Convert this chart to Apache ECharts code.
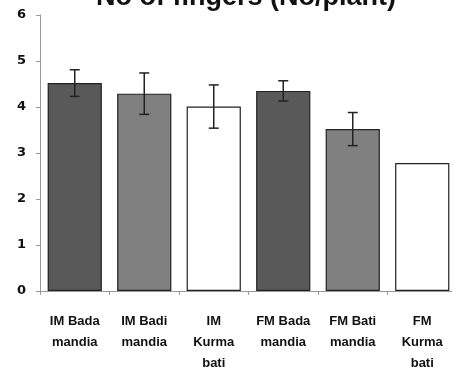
<!DOCTYPE html>
<html><head><meta charset="utf-8">
<script src="https://cdn.jsdelivr.net/npm/echarts@6/dist/echarts.min.js"></script>
<style>html,body{margin:0;padding:0;background:#fff}#c{width:452px;height:367px}</style>
</head><body><div id="c"></div>
<script>
var categories = ['IM Bada\nmandia', 'IM Badi\nmandia', 'IM\nKurma\nbati', 'FM Bada\nmandia', 'FM Bati\nmandia', 'FM\nKurma\nbati'];
var values = [4.52, 4.29, 4.01, 4.35, 3.52, 2.78];
var errors = [0.29, 0.45, 0.47, 0.22, 0.36, 0];
var barColors = ['#595959', '#808080', '#ffffff', '#595959', '#808080', '#ffffff'];
var yTicks = [0, 1, 2, 3, 4, 5, 6];

var chart = echarts.init(document.getElementById('c'));
var errData = values.map(function (v, i) { return [i, v - errors[i], v + errors[i]]; });
chart.setOption({
  animation: false,
  title: {
    text: 'No of fingers (No/plant)', left: 241, textAlign: 'center', top: -21,
    textStyle: { fontFamily: 'Liberation Sans', fontWeight: 'bold', fontSize: 27, color: '#111' }
  },
  grid: { left: 40, top: 15, width: 417, height: 276, outerBoundsMode: 'none', containLabel: false },
  xAxis: {
    type: 'category', data: categories,
    axisLine: { lineStyle: { color: '#999' } },
    axisTick: { show: true, length: 4, lineStyle: { color: '#999' } },
    axisLabel: { interval: 0, margin: 20, fontFamily: 'Liberation Sans', fontWeight: 'bold', fontSize: 13, lineHeight: 21, color: '#111' }
  },
  yAxis: {
    type: 'value', min: 0, max: 6, interval: 1,
    axisLine: { show: true, lineStyle: { color: '#999' } },
    axisTick: { show: true, length: 4, lineStyle: { color: '#999' } },
    splitLine: { show: false },
    axisLabel: { margin: 14, fontFamily: 'DejaVu Sans', fontWeight: 'bold', fontSize: 13, color: '#111',
      formatter: function (v) { return yTicks.indexOf(v) >= 0 ? String(v) : ''; } }
  },
  series: [{
    type: 'bar', barWidth: '78%',
    data: values.map(function (v, i) {
      return { value: v, itemStyle: { color: barColors[i], borderColor: '#222', borderWidth: 1.2 } };
    })
  }, {
    type: 'custom',
    data: errData.filter(function (d, i) { return errors[i] > 0; }),
    renderItem: function (params, api) {
      var lo = api.coord([api.value(0), api.value(1)]);
      var hi = api.coord([api.value(0), api.value(2)]);
      var w = 5;
      var st = { stroke: '#222', lineWidth: 1.5 };
      return { type: 'group', children: [
        { type: 'line', shape: { x1: hi[0], y1: hi[1], x2: lo[0], y2: lo[1] }, style: st },
        { type: 'line', shape: { x1: hi[0] - w, y1: hi[1], x2: hi[0] + w, y2: hi[1] }, style: st },
        { type: 'line', shape: { x1: lo[0] - w, y1: lo[1], x2: lo[0] + w, y2: lo[1] }, style: st }
      ] };
    },
    z: 10
  }]
});
</script></body></html>
